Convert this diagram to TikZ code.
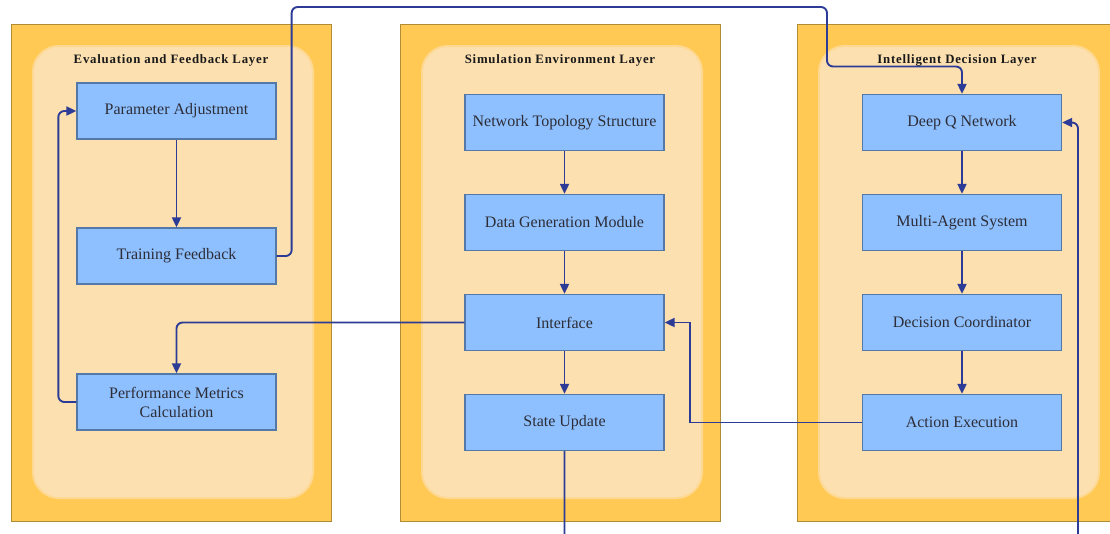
\documentclass[tikz,border=0pt]{standalone}
\usepackage{fontspec}
\setmainfont{Liberation Serif}
\newfontfamily\layerfont[LetterSpace=6]{Liberation Serif}
\usetikzlibrary{arrows.meta}
\definecolor{layergold}{RGB}{255,201,84}
\definecolor{layeredge}{RGB}{176,140,52}
\definecolor{layerpeach}{RGB}{253,224,176}
\definecolor{modblue}{RGB}{142,192,255}
\definecolor{modedge}{RGB}{84,120,168}
\definecolor{flowblue}{RGB}{44,60,150}
\definecolor{labelgray}{RGB}{45,45,55}

\begin{document}
\begin{tikzpicture}[x=1pt, y=-1pt,
    module/.style={draw=modedge, line width=1.3pt, fill=modblue, minimum width=199pt, minimum height=56pt,
        align=center, text=labelgray, font=\fontsize{16}{19}\selectfont},
    flow/.style={draw=flowblue, line width=1.9pt, -{Triangle[length=10pt,width=9pt]}, rounded corners=6pt},
    layertitle/.style={font=\layerfont\bfseries\fontsize{12.8}{14}\selectfont, text=black!90}]
    \useasboundingbox (0,0) rectangle (1110,533);
    \clip (0,0) rectangle (1110,533);

    % Layers
    \foreach \lx/\ln/\lt in {11/eval/{Evaluation and Feedback Layer},
                             400/sim/{Simulation Environment Layer},
                             797/dec/{Intelligent Decision Layer}} {
        \filldraw[fill=layergold, draw=layeredge, line width=1pt] (\lx,24) rectangle ++(320,497);
        \filldraw[fill=layerpeach, draw=layerpeach!70!layergold, line width=2pt, rounded corners=26pt]
            (\lx+22,46) rectangle ++(280,452);
        \node[layertitle] (\ln) at (\lx+160,60) {\lt};
    }

    % Evaluation and feedback modules
    \node[module] (pa) at (176.5,111) {Parameter Adjustment};
    \node[module] (tf) at (176.5,256) {Training Feedback};
    \node[module] (pmc) at (176.5,402) {Performance Metrics\\Calculation};

    % Simulation environment modules
    \foreach \n/\t [count=\k] in {nts/Network Topology Structure, dgm/Data Generation Module,
                                  intf/Interface, su/State Update} {
        \node[module] (\n) at (564.5,22.5+100*\k) {\t};
    }

    % Intelligent decision modules
    \foreach \n/\t [count=\k] in {dqn/Deep Q Network, mas/Multi-Agent System,
                                  dc/Decision Coordinator, ae/Action Execution} {
        \node[module] (\n) at (962,22.5+100*\k) {\t};
    }

    % Connections inside the layers
    \draw[flow] (pa) -- (tf);
    \draw[flow] (nts) -- (dgm);
    \draw[flow] (dgm) -- (intf);
    \draw[flow] (intf) -- (su);
    \draw[flow] (dqn) -- (mas);
    \draw[flow] (mas) -- (dc);
    \draw[flow] (dc) -- (ae);
    \draw[flow] (pmc.west) -- ++(-18,0) |- (pa.west);

    % Connections between the layers
    \draw[flow] (tf.east) -- ++(15,0) |- (827,7) -- (827,66.5) -| (dqn.north);
    \draw[flow] (intf.west) -| (pmc.north);
    \draw[flow, rounded corners=0pt] (ae.west) -- (690,422.5) |- (intf.east);
    \draw[flow] (su.south) |- (1078,545) |- (dqn.east);
\end{tikzpicture}
\end{document}
